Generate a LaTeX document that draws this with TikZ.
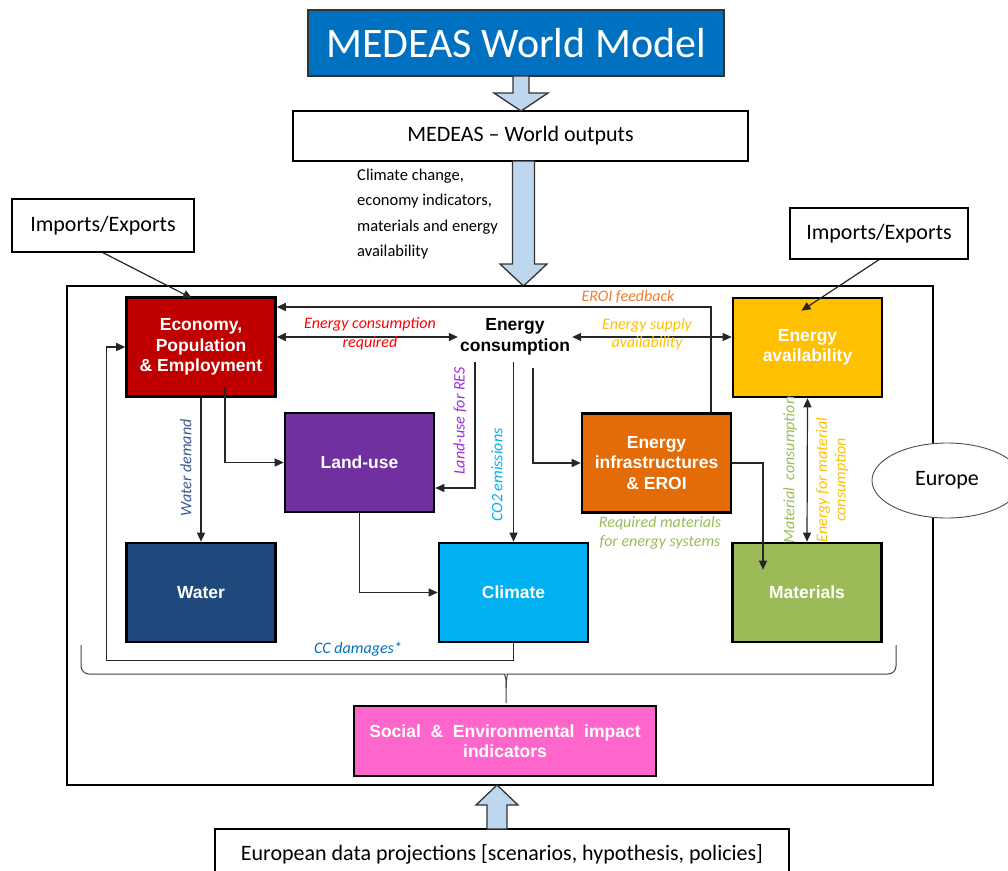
\documentclass[tikz,border=0pt]{standalone}
\usepackage{fontspec}
\setmainfont{Carlito}
\newfontfamily\arialfont{Liberation Sans}
\usetikzlibrary{arrows.meta,positioning,shapes.geometric}
\definecolor{mblue}{HTML}{0070C0}
\definecolor{mred}{HTML}{C00000}
\definecolor{mpurple}{HTML}{7030A0}
\definecolor{mnavy}{HTML}{1F497D}
\definecolor{mcyan}{HTML}{00B0F0}
\definecolor{morange}{HTML}{E36C09}
\definecolor{mgold}{HTML}{FFC000}
\definecolor{mgreen}{HTML}{9BBB59}
\definecolor{mpink}{HTML}{FF66CC}
\definecolor{arrowblue}{HTML}{BDD7EE}
\definecolor{lred}{HTML}{FF0000}
\definecolor{lorange}{HTML}{ED7D31}
\definecolor{lviolet}{HTML}{9B30D9}
\definecolor{lslate}{HTML}{3A5A94}

\begin{document}
\begin{tikzpicture}[x=1pt, y=-1pt,
    every node/.style={font=\fontsize{22}{26}\selectfont},
    model/.style={draw=black, line width=2.6pt, text=white, align=center,
      font=\arialfont\bfseries\fontsize{17.5}{20.5}\selectfont,
      minimum width=149pt, minimum height=99pt, inner sep=2pt},
    plainbox/.style={draw=black, line width=1.4pt, fill=white, inner sep=0pt},
    lab/.style={font=\itshape\fontsize{16}{18.5}\selectfont, align=center},
    link/.style={draw=black!85, line width=1.2pt, -{Triangle[length=9pt,width=8pt]}},
    both/.style={link, {Triangle[length=9pt,width=8pt]}-{Triangle[length=9pt,width=8pt]}},
    fatarrow/.style={draw=black!80, line width=1.3pt, fill=arrowblue, line join=miter}]
    \useasboundingbox (0,0) rectangle (1008,870);
    \clip (0,0) rectangle (1008,870);
    % world model on top
    \node[draw=black!80, line width=1.8pt, fill=mblue, text=white,
      minimum width=416pt, minimum height=66pt,
      font=\fontsize{42}{45}\selectfont] (title) at (516,43) {MEDEAS World Model};
    \node[plainbox, minimum width=455pt, minimum height=50pt] (wout) at (520.5,136)
      {MEDEAS -- World outputs};
    \draw[fatarrow] (513,76) -- (529,76) -- (529,93) -- (548,93) -- (521,111)
      -- (494,93) -- (513,93) -- cycle;
    \node[anchor=north west, inner sep=0pt, align=left,
      font=\fontsize{16.5}{25.3}\selectfont] (wtext) at (357,169)
      {Climate change,\\economy indicators,\\materials and energy\\availability};
    \draw[fatarrow] (512.5,161) -- (534.5,161) -- (534.5,264) -- (547,264) -- (523.5,286)
      -- (500,264) -- (512.5,264) -- cycle;
    % europe frame
    \draw[line width=1.5pt] (67,286) rectangle (933,785);
    \node[ellipse, draw=black!70, line width=0.9pt, fill=white,
      minimum width=150pt, minimum height=75pt] (europe) at (947,480.5) {Europe};
    \node[plainbox, minimum width=182pt, minimum height=53pt] (impL) at (103,225.5) {Imports/Exports};
    \node[plainbox, minimum width=178pt, minimum height=51pt] (impR) at (879,233.5) {Imports/Exports};
    % modules
    \foreach \nm/\pos/\col/\txt in {
      econ/{(201,347)}/mred/{Economy,\\Population\\\& Employment},
      eavail/{(807.5,347.5)}/mgold/{Energy\\availability},
      land/{(359.5,462.5)}/mpurple/{Land-use},
      infra/{(656.5,463)}/morange/{Energy\\infrastructures\\\& EROI},
      water/{(201,592.5)}/mnavy/{Water},
      climate/{(513.5,592.5)}/mcyan/{Climate},
      mat/{(807,592.5)}/mgreen/{Materials}}{
      \node[model, fill=\col] (\nm) at \pos {\txt};
    }
    \node[model, fill=mpink, minimum width=302pt, minimum height=70pt] (social) at (505,741)
      {Social~ \&~ Environmental~ impact\\indicators};
    \node[align=center, inner sep=2pt,
      font=\arialfont\bfseries\fontsize{17.5}{20.5}\selectfont] (econs) at (515,337)
      {Energy\\consumption};
    \coordinate (ecbot) at ([yshift=-5pt]econs.south);
    % links
    \draw[link] (impL.south) -- ([xshift=-9pt,yshift=-2pt]econ.north);
    \draw[link] (impR.south) -- ([xshift=-6pt,yshift=-14pt]eavail.north);
    \draw[link] ([xshift=54.5pt]infra.north) |- ([yshift=40pt]econ.east);
    \draw[both] ([yshift=10pt]econ.east) -- (econs.west);
    \draw[both] (econs.east) -- ([yshift=10.5pt]eavail.west);
    \draw[link] ([xshift=-40pt]ecbot) |- ([yshift=-25.5pt]land.east);
    \draw[link] (ecbot -| climate.north) -- (climate.north);
    \draw[link] ([xshift=18pt,yshift=-6pt]ecbot) |- (infra.west);
    \draw[link] ([xshift=24pt,yshift=11pt]econ.south) |- (land.west);
    \draw[link] (econ.south) -- (water.north);
    \draw[link] (land.south) |- (climate.west);
    \draw[link] (infra.east) -| ([xshift=-44pt,yshift=-28pt]mat.north);
    \draw[both] (eavail.south) -- (mat.north);
    \draw[link] (climate.south) -- ++(0,17) -| ([xshift=-19pt]econ.west) -- (econ.west);
    % link labels
    \node[lab, text=lred] (lreq) at (370,334) {Energy consumption\\required};
    \node[lab, text=mgold] (lsup) at (647,334) {Energy supply\\availability};
    \node[lab, text=lorange] (leroi) at (628,297) {EROI feedback};
    \node[lab, text=lviolet, rotate=90] (lres) at (460,421) {Land-use for RES};
    \node[lab, text=mcyan, rotate=90] (lco2) at (497,475) {CO2 emissions};
    \node[lab, text=lslate, rotate=90] (lwat) at (186,468) {Water demand};
    \node[lab, text=mblue] (lcc) at (358,649) {CC damages*};
    \node[lab, text=mgreen] (lmreq) at (660,533) {Required materials\\for energy systems};
    \node[lab, text=mgreen, rotate=90] (lmat) at (790,470) {Material~ consumption};
    \node[lab, text=mgold, rotate=90] (lemat) at (832,480) {Energy for material\\consumption};
    % brace over the modules
    \draw[line width=1pt, black!75, rounded corners=8pt] (81,645) -- (81,674) -- (497,674)
      .. controls (504,674) and (506,678) .. (506,688) -- (506,703);
    \draw[line width=1pt, black!75, rounded corners=8pt] (896,645) -- (896,674) -- (515,674)
      .. controls (508,674) and (506,678) .. (506,688);
    % european data
    \node[plainbox, minimum width=574pt, minimum height=50pt] (euro) at (502,854)
      {European data projections [scenarios, hypothesis, policies]};
    \draw[fatarrow] (487,829) -- (507,829) -- (507,805) -- (518,805) -- (497,785)
      -- (476,805) -- (487,805) -- cycle;
\end{tikzpicture}
\end{document}
